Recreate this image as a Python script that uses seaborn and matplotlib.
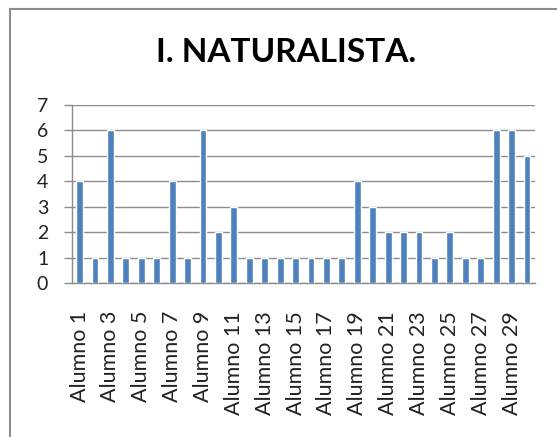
import numpy as np
import pandas as pd
import matplotlib.pyplot as plt
import seaborn as sns
from matplotlib.patches import Rectangle

# Data
alumnos = ['Alumno %d' % i for i in range(1, 31)]
valores = [4, 1, 6, 1, 1, 1, 4, 1, 6, 2, 3, 1, 1, 1, 1, 1, 1, 1, 4, 3,
           2, 2, 2, 1, 2, 1, 1, 6, 6, 5]
y_ticks = [0, 1, 2, 3, 4, 5, 6, 7]

df = pd.DataFrame({'Alumno': alumnos, 'Valor': valores})

sns.set_style('white')
plt.rcParams['font.family'] = ['Lato', 'DejaVu Sans']

fig = plt.figure(figsize=(5.57, 4.37), dpi=100)
ax = fig.add_axes([0.129, 0.352, 0.831, 0.408])

sns.barplot(data=df, x='Alumno', y='Valor', color='#4F81BD', width=0.45,
            saturation=1, ax=ax, zorder=3)

ax.set_xlim(-0.5, len(alumnos) - 0.5)
ax.set_ylim(0, 7)
ax.set_yticks(y_ticks)
ax.yaxis.grid(True, color='#8C8C8C', linewidth=1)
ax.set_axisbelow(True)

# labels on every second category, ticks on category boundaries
ax.set_xticks(range(0, len(alumnos), 2))
ax.set_xticklabels(alumnos[::2], rotation=90, fontsize=15.5, color='#222222')
ax.set_xticks(np.arange(-0.5, len(alumnos), 1), minor=True)
ax.tick_params(axis='x', which='major', length=0, pad=20)
ax.tick_params(axis='x', which='minor', length=5, color='#8C8C8C', width=1,
               direction='out')
ax.tick_params(axis='y', length=6, color='#8C8C8C', width=1, direction='out',
               labelsize=14, pad=11, labelcolor='#222222', left=True)

for side in ['top', 'right']:
    ax.spines[side].set_visible(False)
for side in ['left', 'bottom']:
    ax.spines[side].set_color('#8C8C8C')
    ax.spines[side].set_linewidth(1)

ax.set_xlabel('')
ax.set_ylabel('')

fig.text(0.513, 0.881, 'I. NATURALISTA.', ha='center', va='center',
         fontsize=24, fontweight='bold', color='black')

# chart border
fig.patches.append(Rectangle((10 / 557, -0.05), 1.2, (437 - 9) / 437 + 0.05,
                             transform=fig.transFigure, fill=False,
                             edgecolor='#8C8C8C', linewidth=1.5))

fig.savefig('out.png', dpi=100)
